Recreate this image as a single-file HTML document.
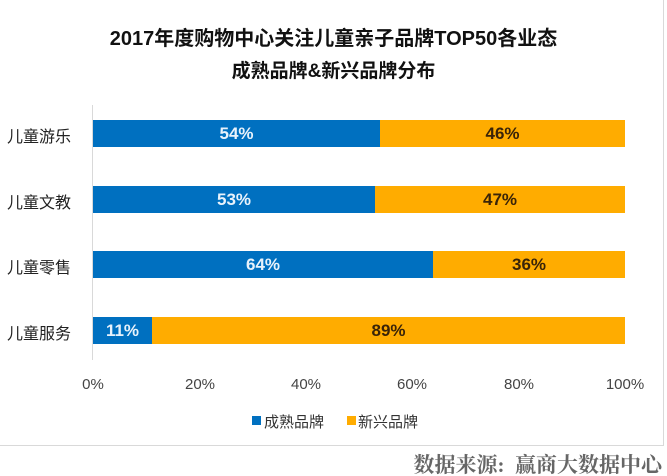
<!DOCTYPE html>
<html><head><meta charset="utf-8"><style>
body{margin:0;background:#fff;}
.w{position:relative;width:667px;height:476px;overflow:hidden;font-family:"Liberation Sans","Noto Sans CJK SC",sans-serif;}
.box{position:absolute;left:0;top:0;width:664px;height:446px;border-right:1px solid #d9d9d9;border-bottom:1px solid #d9d9d9;box-sizing:border-box;}
.t{position:absolute;left:0;width:667px;text-align:center;font-weight:bold;color:#111;}
.ax{position:absolute;left:92px;top:105px;width:1px;height:255px;background:#d9d9d9;}
.cat{position:absolute;left:7px;font-size:16px;color:#222;}
.b{position:absolute;height:27px;font-weight:bold;font-size:17px;line-height:27px;text-align:center;}
.bl{background:#0070c0;color:#e8f2fb;}
.or{background:#ffac00;color:#3a2408;}
.tk{position:absolute;top:376px;font-size:15px;color:#444;width:60px;text-align:center;}
.lg{position:absolute;top:411px;font-size:15px;color:#333;}
.sq{position:absolute;top:416px;width:9px;height:9px;}
</style></head><body><div class="w">
<div class="box"></div>
<div class="t" style="top:22px;font-size:20px">2017年度购物中心关注儿童亲子品牌TOP50各业态</div>
<div class="t" style="top:56px;font-size:19px">成熟品牌&amp;新兴品牌分布</div>
<div class="ax"></div>
<div class="cat" style="top:123px">儿童游乐</div>
<div class="cat" style="top:189px">儿童文教</div>
<div class="cat" style="top:254px">儿童零售</div>
<div class="cat" style="top:320px">儿童服务</div>
<div class="b bl" style="left:93px;top:120px;width:287px">54%</div><div class="b or" style="left:380px;top:120px;width:245px">46%</div>
<div class="b bl" style="left:93px;top:186px;width:282px">53%</div><div class="b or" style="left:375px;top:186px;width:250px">47%</div>
<div class="b bl" style="left:93px;top:251px;width:340px">64%</div><div class="b or" style="left:433px;top:251px;width:192px">36%</div>
<div class="b bl" style="left:93px;top:317px;width:59px">11%</div><div class="b or" style="left:152px;top:317px;width:473px">89%</div>
<div class="tk" style="left:63px">0%</div><div class="tk" style="left:170px">20%</div><div class="tk" style="left:276px">40%</div><div class="tk" style="left:382px">60%</div><div class="tk" style="left:489px">80%</div><div class="tk" style="left:595px">100%</div>
<div class="sq" style="left:252px;background:#0070c0"></div><div class="lg" style="left:264px">成熟品牌</div>
<div class="sq" style="left:347px;background:#ffac00"></div><div class="lg" style="left:358px">新兴品牌</div>
<div style="position:absolute;right:5px;top:449px;font-family:'Liberation Serif','Noto Serif CJK SC',serif;font-weight:bold;font-size:21px;color:#666">数据来源:&nbsp;&nbsp;赢商大数据中心</div>
</div></body></html>
